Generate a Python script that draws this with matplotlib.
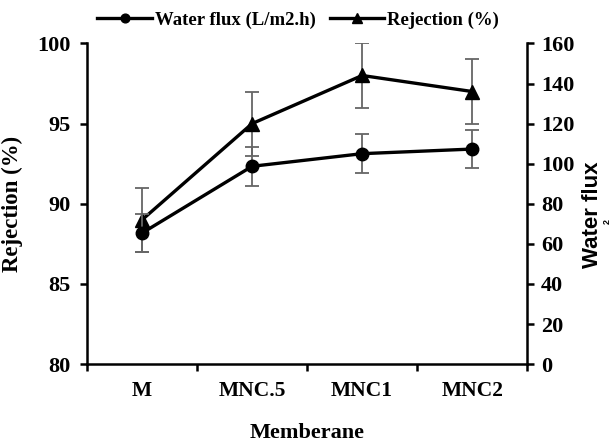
import numpy as np
import matplotlib.pyplot as plt

membranes = ["M", "MNC.5", "MNC1", "MNC2"]
rejection = [89.0, 95.0, 98.0, 97.0]
rejection_err = [2.0, 2.0, 2.0, 2.0]
flux = [65.4, 98.7, 105.0, 107.3]
flux_err = [9.7, 9.6, 9.6, 9.7]

plt.rcParams['font.family'] = ['Liberation Serif', 'DejaVu Serif']
plt.rcParams['font.weight'] = 'bold'

fig = plt.figure(figsize=(6.13, 4.43), dpi=100)
ax = fig.add_axes([0.142, 0.178, 0.718, 0.724])
ax2 = ax.twinx()

x = np.arange(len(membranes))
ecol = "#666666"

# rejection on left axis
ax.errorbar(x, rejection, yerr=rejection_err, fmt='none', ecolor=ecol,
            elinewidth=1.3, capsize=5, capthick=1.3, zorder=2)
l2, = ax.plot(x, rejection, color='black', lw=2.4, marker='^', ms=10,
              label="Rejection (%)", zorder=3)

# water flux on right axis
ax2.errorbar(x, flux, yerr=flux_err, fmt='none', ecolor=ecol,
             elinewidth=1.3, capsize=5, capthick=1.3, zorder=2)
l1, = ax2.plot(x, flux, color='black', lw=2.4, marker='o', ms=9,
               label="Water flux (L/m2.h)", zorder=3)

ax.set_xlim(-0.5, 3.5)
ax.set_ylim(80, 100)
ax.set_yticks([80, 85, 90, 95, 100])
ax2.set_ylim(0, 160)
ax2.set_yticks(np.arange(0, 161, 20))

ax.set_xticks([-0.5, 0.5, 1.5, 2.5, 3.5])
ax.set_xticklabels([])
ax.set_xticks(x, minor=True)
ax.set_xticklabels(membranes, minor=True)
ax.tick_params(axis='x', which='minor', length=0, pad=12, labelsize=15.5)
ax.tick_params(axis='x', which='major', length=5, width=1.8)
ax.tick_params(axis='y', length=5, width=1.8, labelsize=16, pad=7)
ax2.tick_params(axis='y', length=5, width=1.8, labelsize=16, pad=5)

for a in (ax, ax2):
    a.spines['top'].set_visible(False)
    for s in ('left', 'right', 'bottom'):
        a.spines[s].set_linewidth(1.8)
ax.spines['right'].set_visible(False)
ax2.spines['left'].set_visible(False)
ax2.spines['bottom'].set_visible(False)

ax.set_ylabel("Rejection (%)", fontsize=16.5, fontweight='bold', labelpad=10)
ax.set_xlabel("Memberane", fontsize=16, fontweight='bold')
ax.xaxis.set_label_coords(0.5, -0.185)
fig.text(592 / 613, 1 - 215 / 443, "Water flux", rotation=90, fontsize=16,
         family='Liberation Sans', fontweight='bold', ha='center', va='center')
fig.text(607.5 / 613, 1 - 221 / 443, "2", rotation=90, fontsize=6.5,
         family='Liberation Sans', ha='center', va='center')

fig.legend(handles=[l1, l2], loc='center', bbox_to_anchor=(298 / 613, 1 - 20 / 443),
           ncol=2, frameon=False, fontsize=13.5, handlelength=2.9,
           handletextpad=0.15, columnspacing=0.75, markerscale=0.7,
           borderaxespad=0, borderpad=0)

fig.savefig("out.png", dpi=100)
